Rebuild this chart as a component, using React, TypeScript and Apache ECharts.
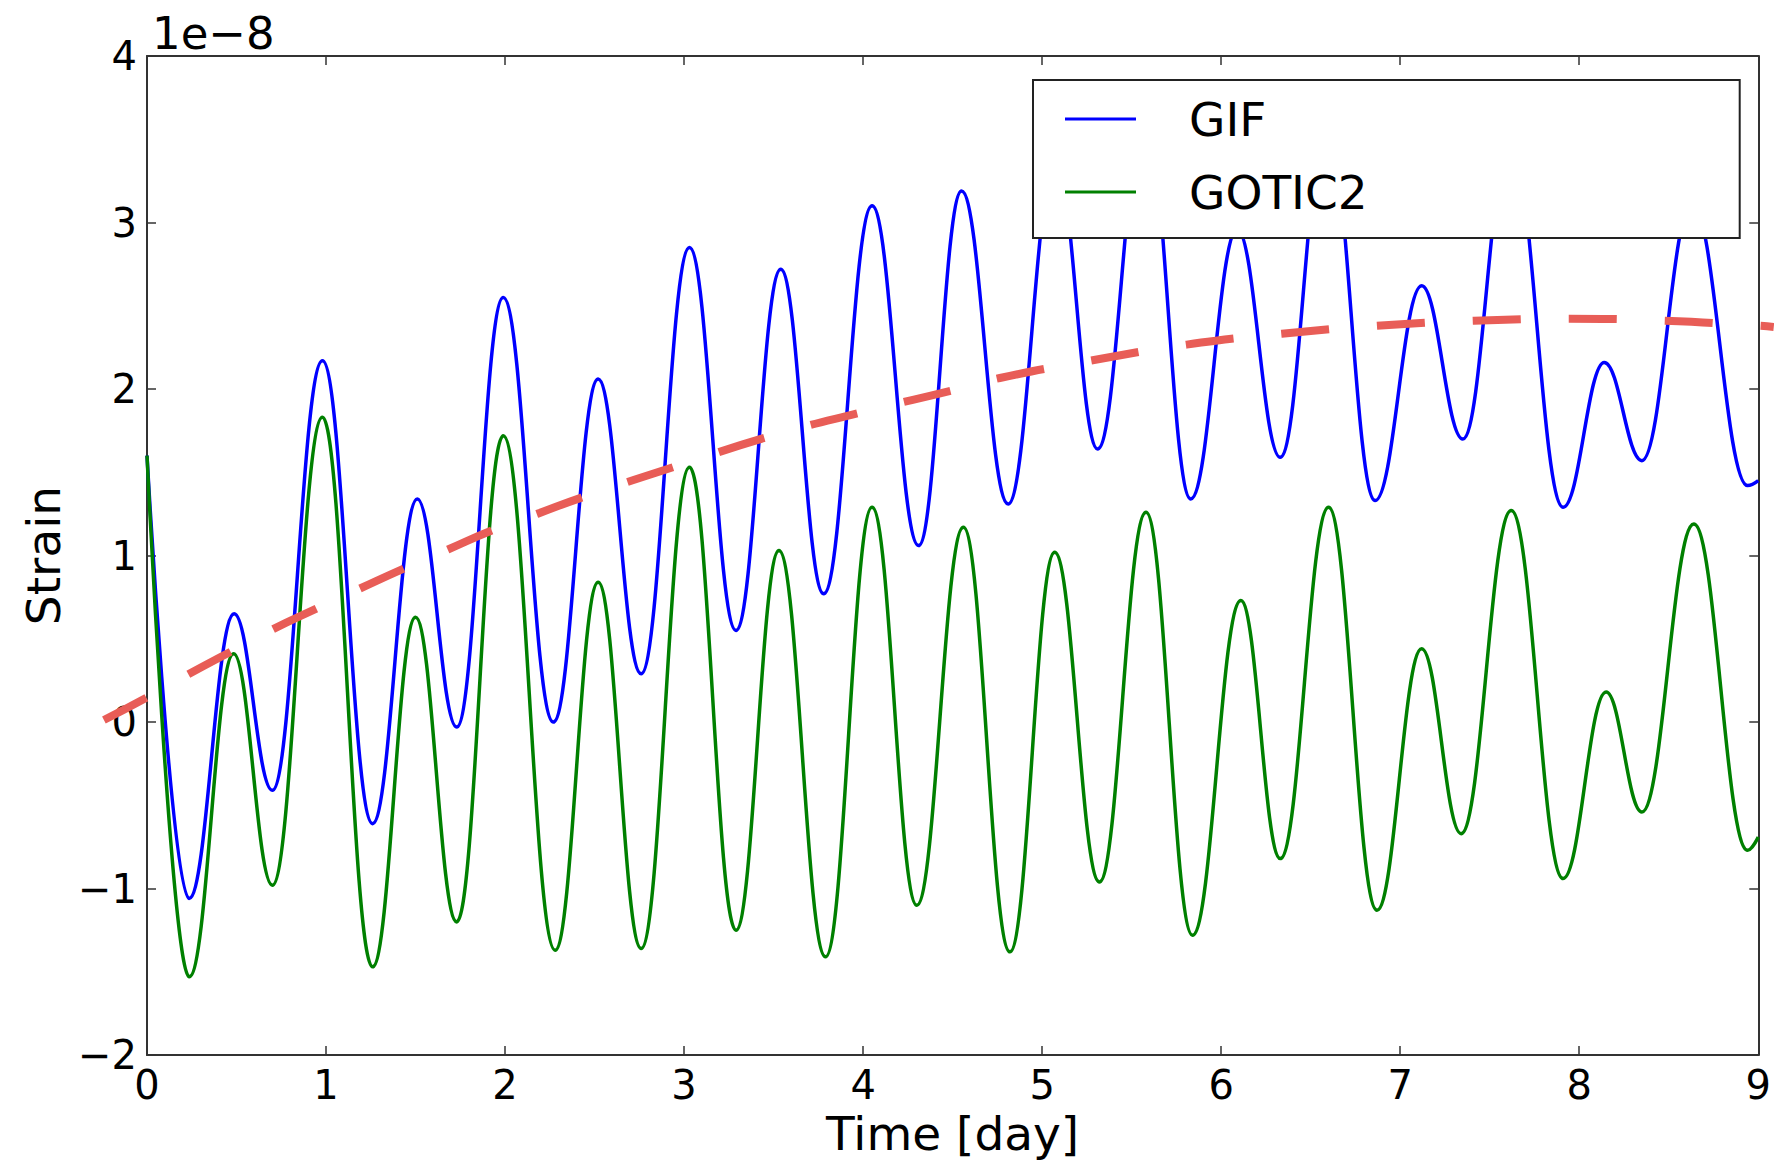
import React, { useEffect, useRef } from 'react';
import * as echarts from 'echarts';

// ---- Data (strain in units of 1e-8, time in days) ----
const seriesNames = ['GIF', 'GOTIC2'];

const gifTime = [0, 0.235, 0.487, 0.7, 0.98, 1.26, 1.51, 1.73, 1.99, 2.27, 2.52, 2.76, 3.03, 3.29, 3.54, 3.78, 4.05, 4.31, 4.55, 4.81, 5.075, 5.31, 5.575, 5.83, 6.09, 6.33, 6.59, 6.86, 7.12, 7.35, 7.615, 7.91, 8.14, 8.35, 8.63, 8.94, 9.0];
const gifStrain = [1.6, -1.06, 0.65, -0.41, 2.17, -0.61, 1.34, -0.03, 2.55, 0.0, 2.06, 0.29, 2.85, 0.55, 2.72, 0.77, 3.1, 1.06, 3.19, 1.31, 3.38, 1.64, 3.65, 1.34, 2.96, 1.59, 3.6, 1.33, 2.62, 1.7, 3.5, 1.29, 2.16, 1.57, 3.12, 1.42, 1.45];

const gotic2Time = [0, 0.236, 0.484, 0.7, 0.98, 1.26, 1.5, 1.73, 1.99, 2.28, 2.52, 2.76, 3.03, 3.29, 3.53, 3.79, 4.05, 4.3, 4.56, 4.82, 5.07, 5.32, 5.58, 5.84, 6.11, 6.33, 6.6, 6.87, 7.12, 7.34, 7.62, 7.91, 8.15, 8.35, 8.64, 8.94, 9.0];
const gotic2Strain = [1.6, -1.53, 0.41, -0.98, 1.83, -1.47, 0.63, -1.2, 1.72, -1.37, 0.84, -1.36, 1.53, -1.25, 1.03, -1.41, 1.29, -1.1, 1.17, -1.38, 1.02, -0.96, 1.26, -1.28, 0.73, -0.82, 1.29, -1.13, 0.44, -0.67, 1.27, -0.94, 0.18, -0.54, 1.19, -0.77, -0.69];

const trendTime = [-0.24, 0, 0.228, 0.468, 0.7, 0.947, 1.186, 1.43, 1.676, 1.92, 2.177, 2.42, 3.0, 3.5, 4.0, 4.5, 4.75, 5.256, 5.79, 6.32, 6.85, 7.39, 7.92, 8.45, 8.98, 9.06];
const trendStrain = [0.02, 0.156, 0.293, 0.431, 0.563, 0.689, 0.808, 0.928, 1.042, 1.156, 1.257, 1.353, 1.56, 1.73, 1.87, 2.0, 2.07, 2.174, 2.27, 2.335, 2.383, 2.413, 2.425, 2.413, 2.383, 2.376];

const xTicks = [0, 1, 2, 3, 4, 5, 6, 7, 8, 9];
const yTicks = [-2, -1, 0, 1, 2, 3, 4];
const offsetLabel = '1e\u22128';
const xLabel = 'Time [day]';
const yLabel = 'Strain';

const pairs = (xs: number[], ys: number[]) => xs.map((x, i) => [x, ys[i]]);
const fmt = (v: number) => (v < 0 ? '\u2212' + Math.abs(v) : String(v));

const FONT = '"DejaVu Sans", sans-serif';
const AXIS_COLOR = '#333';

// layout (pixels)
const W = 1774;
const H = 1162;
const GRID = { left: 147, right: 11, top: 56, bottom: 105 };

export default function App() {
  const ref = useRef<HTMLDivElement>(null);

  useEffect(() => {
    if (!ref.current) return;
    const chart = echarts.init(ref.current, undefined, { renderer: 'svg' });

    const xMin = xTicks[0];
    const xMax = xTicks[xTicks.length - 1];
    const yMin = yTicks[0];
    const yMax = yTicks[yTicks.length - 1];

    // an invisible full-width overlay grid with the same scale, so the
    // dashed trend line can run past the plot frame as in the original
    const plotW = W - GRID.left - GRID.right;
    const pxPerDay = plotW / (xMax - xMin);
    const wideMin = xMin - GRID.left / pxPerDay;
    const wideMax = xMax + GRID.right / pxPerDay;

    const axisLine = { onZero: false, lineStyle: { color: AXIS_COLOR, width: 2 } };
    const axisTick = { inside: true, length: 9, lineStyle: { color: AXIS_COLOR, width: 1.5 } };

    const option: any = {
      animation: false,
      backgroundColor: '#fff',
      textStyle: { fontFamily: FONT },
      grid: [
        { ...GRID },
        { left: 0, right: 0, top: GRID.top, bottom: GRID.bottom },
      ],
      legend: {
        data: seriesNames,
        orient: 'vertical',
        left: 1033,
        top: 80,
        backgroundColor: '#fff',
        borderColor: '#222',
        borderWidth: 2,
        borderRadius: 0,
        padding: [11, 372, 18, 32],
        itemWidth: 71,
        itemHeight: 3,
        itemGap: 17,
        icon: 'rect',
        textStyle: { fontSize: 47, lineHeight: 56, color: '#000', fontFamily: FONT, padding: [0, 0, 0, 48] },
      },
      xAxis: [
        {
          type: 'value', min: xMin, max: xMax, interval: 1, position: 'bottom',
          name: xLabel, nameLocation: 'middle', nameGap: 50,
          nameTextStyle: { fontSize: 47, color: '#000', fontFamily: FONT },
          axisLine, axisTick,
          axisLabel: { fontSize: 40, color: '#000', margin: 10, formatter: fmt, fontFamily: FONT },
          splitLine: { show: false },
        },
        {
          type: 'value', min: xMin, max: xMax, interval: 1, position: 'top',
          axisLine, axisTick, axisLabel: { show: false }, splitLine: { show: false },
        },
        {
          type: 'value', gridIndex: 1, min: wideMin, max: wideMax, show: false,
          axisLine: { show: false }, axisTick: { show: false }, axisLabel: { show: false }, splitLine: { show: false },
        },
      ],
      yAxis: [
        {
          type: 'value', min: yMin, max: yMax, interval: 1, position: 'left',
          name: yLabel, nameLocation: 'middle', nameGap: 78, nameRotate: 90,
          nameTextStyle: { fontSize: 47, color: '#000', fontFamily: FONT },
          axisLine, axisTick,
          axisLabel: { fontSize: 40, color: '#000', margin: 10, formatter: fmt, fontFamily: FONT },
          splitLine: { show: false },
        },
        {
          type: 'value', min: yMin, max: yMax, interval: 1, position: 'right',
          axisLine, axisTick, axisLabel: { show: false }, splitLine: { show: false },
        },
        {
          type: 'value', gridIndex: 1, min: yMin, max: yMax, show: false,
          axisLine: { show: false }, axisTick: { show: false }, axisLabel: { show: false }, splitLine: { show: false },
        },
      ],
      series: [
        {
          name: seriesNames[0], type: 'line', data: pairs(gifTime, gifStrain),
          xAxisIndex: 0, yAxisIndex: 0,
          symbol: 'none', showSymbol: false, smooth: 0.4, smoothMonotone: 'x',
          lineStyle: { color: '#0000ff', width: 3.5 }, itemStyle: { color: '#0000ff' }, z: 2,
        },
        {
          name: seriesNames[1], type: 'line', data: pairs(gotic2Time, gotic2Strain),
          xAxisIndex: 0, yAxisIndex: 0,
          symbol: 'none', showSymbol: false, smooth: 0.4, smoothMonotone: 'x',
          lineStyle: { color: '#008000', width: 3.5 }, itemStyle: { color: '#008000' }, z: 2,
        },
        {
          name: 'trend', type: 'line', data: pairs(trendTime, trendStrain),
          xAxisIndex: 2, yAxisIndex: 2,
          symbol: 'none', showSymbol: false, smooth: 0.5, clip: false, silent: true,
          lineStyle: { color: '#e85d57', width: 8, type: [48, 48], cap: 'butt' }, z: 3,
        },
      ],
      graphic: [
        {
          type: 'text', left: 152, top: 11,
          style: { text: offsetLabel, font: '45px "DejaVu Sans"', fill: '#000' },
        },
      ],
    };

    chart.setOption(option);
    return () => chart.dispose();
  }, []);

  return (
    <div
      ref={ref}
      style={{ position: 'absolute', left: 0, top: 0, width: W, height: H }}
    />
  );
}
